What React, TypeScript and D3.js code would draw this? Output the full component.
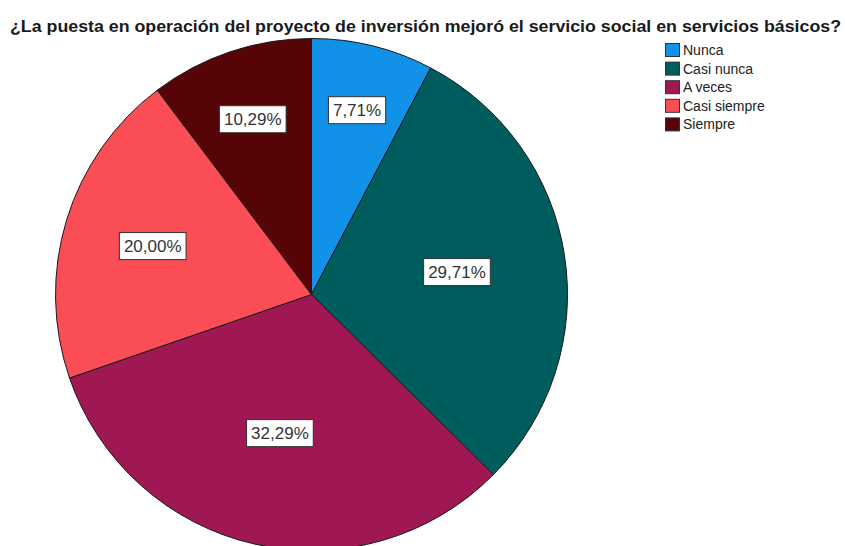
import React, { useEffect, useRef } from "react";
import * as d3 from "d3";

const categories = ["Nunca", "Casi nunca", "A veces", "Casi siempre", "Siempre"];
const percents = [7.71, 29.71, 32.29, 20.0, 10.29];
const colors = ["#1192e8", "#005d5d", "#9f1853", "#fa4d56", "#570408"];
const title =
  "¿La puesta en operación del proyecto de inversión mejoró el servicio social en servicios básicos?";

const fmt = (v: number) => v.toFixed(2).replace(".", ",") + "%";

const App = () => {
  const svgRef = useRef<SVGSVGElement>(null);

  useEffect(() => {
    const svg = d3.select(svgRef.current);
    svg.selectAll("*").remove();

    const cx = 311.5;
    const cy = 294.5;
    const radius = 256;
    const font = "'Liberation Sans', Arial, sans-serif";

    svg
      .append("text")
      .attr("x", 10)
      .attr("y", 32)
      .attr("font-family", font)
      .attr("font-weight", "bold")
      .attr("font-size", 17)
      .attr("fill", "#1a1a1a")
      .attr("textLength", 831)
      .attr("lengthAdjust", "spacingAndGlyphs")
      .text(title);

    const data = categories.map((c, i) => ({ name: c, value: percents[i], color: colors[i] }));

    const pie = d3
      .pie<any>()
      .sort(null)
      .value((d) => d.value);
    const arcs = pie(data);

    const arc = d3.arc<any>().innerRadius(0).outerRadius(radius);

    const g = svg.append("g").attr("transform", `translate(${cx},${cy})`);

    g.selectAll("path.slice")
      .data(arcs)
      .join("path")
      .attr("class", "slice")
      .attr("d", arc)
      .attr("fill", (d) => d.data.color)
      .attr("stroke", "#1a1a1a")
      .attr("stroke-width", 1);

    // small slices push their label outward, like SPSS does
    const labelArc = (d: any) => {
      const share = d.data.value / 100;
      const f = 0.55 + 0.25 * Math.max(0, 1 - share / 0.33);
      return d3.arc<any>().innerRadius(radius * f).outerRadius(radius * f).centroid(d);
    };

    arcs.forEach((d) => {
      const [x, y] = labelArc(d);
      const lg = g.append("g").attr("transform", `translate(${x},${y})`);
      const rect = lg.append("rect");
      const t = lg
        .append("text")
        .attr("text-anchor", "middle")
        .attr("dy", "0.36em")
        .attr("font-family", font)
        .attr("font-size", 17)
        .attr("fill", "#333")
        .text(fmt(d.data.value));
      const bb = (t.node() as SVGTextElement).getBBox();
      const w = bb.width + 9;
      const h = 27;
      rect
        .attr("x", -w / 2)
        .attr("y", -h / 2)
        .attr("width", w)
        .attr("height", h)
        .attr("fill", "#fff")
        .attr("stroke", "#333")
        .attr("stroke-width", 1);
    });

    const legend = svg.append("g").attr("transform", "translate(665,43)");
    const rowH = 18.6;
    categories.forEach((c, i) => {
      legend
        .append("rect")
        .attr("x", 0.5)
        .attr("y", i * rowH + 0.5)
        .attr("width", 14)
        .attr("height", 13)
        .attr("fill", colors[i])
        .attr("stroke", "#333")
        .attr("stroke-width", 1);
      legend
        .append("text")
        .attr("x", 18)
        .attr("y", i * rowH + 7)
        .attr("dy", "0.36em")
        .attr("font-family", font)
        .attr("font-size", 14)
        .attr("fill", "#222")
        .text(c);
    });
  }, []);

  return (
    <svg
      ref={svgRef}
      width={845}
      height={546}
      style={{ position: "absolute", left: 0, top: 0, background: "#fff" }}
    ></svg>
  );
};

export default App;
